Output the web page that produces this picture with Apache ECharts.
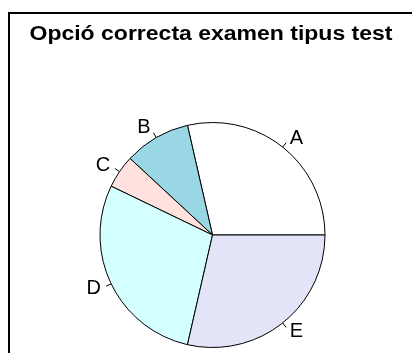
<!DOCTYPE html>
<html>
<head>
<meta charset="utf-8">
<script src="https://cdn.jsdelivr.net/npm/echarts@6/dist/echarts.min.js"></script>
<style>
  html, body { margin: 0; padding: 0; background: #fff; }
  #chart { width: 412px; height: 353px; }
</style>
</head>
<body>
<div id="chart"></div>
<script>
// Answer options and how many times each one was the correct choice
const options = ['A', 'B', 'C', 'D', 'E'];
const counts = [6, 2, 1, 6, 6];
const sliceColors = ['#ffffff', '#9ad7e5', '#ffe2de', '#d4ffff', '#e4e4f8'];
const chartTitle = 'Opció correcta examen tipus test';

const pieRadius = 112.5;

const chart = echarts.init(document.getElementById('chart'), null, { renderer: 'canvas' });

chart.setOption({
  backgroundColor: '#ffffff',
  animation: false,
  graphic: [
    {
      // outer frame
      type: 'rect',
      shape: { x: 9, y: 13, width: 420, height: 360 },
      style: { fill: 'none', stroke: '#000', lineWidth: 2 },
      silent: true,
      z: 10
    },
    {
      // heading, slightly widened
      type: 'text',
      x: 211,
      y: 34,
      scaleX: 1.15,
      style: {
        text: chartTitle,
        x: 0,
        y: 0,
        align: 'center',
        verticalAlign: 'middle',
        fontFamily: 'Liberation Sans, Arial, sans-serif',
        fontWeight: 'bold',
        fontSize: 20,
        fill: '#000'
      },
      silent: true,
      z: 10
    }
  ],
  series: [{
    type: 'pie',
    center: [212.5, 235],
    radius: pieRadius,
    startAngle: 0,
    clockwise: false,
    avoidLabelOverlap: false,
    minShowLabelAngle: 0,
    data: options.map((name, i) => ({
      name: name,
      value: counts[i],
      itemStyle: { color: sliceColors[i] }
    })),
    itemStyle: { borderColor: '#000', borderWidth: 1 },
    label: {
      show: true,
      position: 'outside',
      formatter: '{b}',
      fontFamily: 'Liberation Sans, Arial, sans-serif',
      fontSize: 20,
      color: '#000',
      distanceToLabelLine: 0
    },
    // leader runs out to 1.1 r; only the first 0.05 r is drawn as a tick
    labelLine: {
      show: true,
      length: pieRadius * 0.1,
      length2: 0,
      lineStyle: { color: '#000', width: 1, type: [pieRadius * 0.05, 40] }
    },
    emphasis: { disabled: true }
  }]
});
</script>
</body>
</html>
